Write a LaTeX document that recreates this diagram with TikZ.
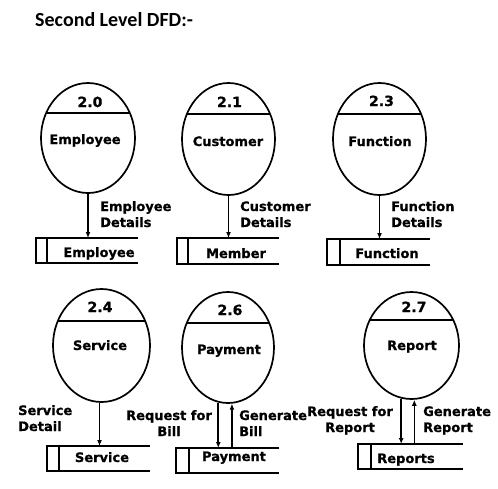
\documentclass[tikz,border=0pt]{standalone}
\usepackage{fontspec}
\setmainfont{DejaVu Sans}[BoldFeatures={FakeBold=0.8}]
\newfontfamily\titlefont{Carlito}
\usetikzlibrary{shapes.geometric,arrows.meta,calc}
\tikzset{
  proc/.style={draw, ellipse, line width=1.7pt, inner sep=0pt},
  storebox/.style={inner sep=0pt, outer sep=0pt, draw=none},
  storeline/.style={line width=1.7pt},
  flow/.style={line width=1.6pt, -{Latex[length=6pt,width=5pt]}},
  lbl/.style={font=\bfseries\fontsize{13}{16}\selectfont, inner sep=0pt},
  numtxt/.style={font=\bfseries\fontsize{14}{16}\selectfont, inner sep=0pt, anchor=base},
}
% name, rx, ry, dy
\newcommand\dfdchord[4]{%
  \draw[line width=1.7pt] ($(#1.center)+({-#2*sqrt(1-(#4/#3)^2)},-#4)$) -- ($(#1.center)+({#2*sqrt(1-(#4/#3)^2)},-#4)$);}
% name, cx, cy, w, h, inner offset
\newcommand\dfdstore[6]{%
  \node[storebox, minimum width=#4pt, minimum height=#5pt] (#1) at (#2,#3) {};
  \draw[storeline] (#1.north east) -- (#1.north west) -- (#1.south west) -- (#1.south east);
  \draw[storeline] ($(#1.north west)+(#6,0)$) -- ($(#1.south west)+(#6,0)$);}
\begin{document}
\begin{tikzpicture}[x=1pt,y=-1pt]
\useasboundingbox (0,0) rectangle (498,488);
\node[anchor=base west, inner sep=0pt, font=\titlefont\bfseries\fontsize{20}{24}\selectfont] (title) at (35,26) {Second Level DFD:-};

% processes
\node[proc, minimum width=94pt, minimum height=110pt] (p0) at (88,138) {};
\node[proc, minimum width=93pt, minimum height=112pt] (p1) at (228.5,139) {};
\node[proc, minimum width=93pt, minimum height=112pt] (p3) at (379.5,139) {};
\node[proc, minimum width=97pt, minimum height=113pt] (p4) at (101.5,345.5) {};
\node[proc, minimum width=92pt, minimum height=111pt] (p6) at (228,347.5) {};
\node[proc, minimum width=95pt, minimum height=107pt] (p7) at (411.5,345.5) {};
\dfdchord{p0}{47}{55}{25}
\dfdchord{p1}{46.5}{56}{25}
\dfdchord{p3}{46.5}{56}{25}
\dfdchord{p4}{48.5}{56.5}{24.5}
\dfdchord{p6}{46}{55.5}{24.5}
\dfdchord{p7}{47.5}{53.5}{25.5}

\node[numtxt] (p0n) at (90,107) {2.0};
\node[numtxt] (p1n) at (229.5,107) {2.1};
\node[numtxt] (p3n) at (381.5,106) {2.3};
\node[numtxt] (p4n) at (100,312) {2.4};
\node[numtxt] (p6n) at (230,315) {2.6};
\node[numtxt] (p7n) at (414,312) {2.7};

\node[lbl, anchor=base] (p0t) at (85,144) {Employee};
\node[lbl, anchor=base] (p1t) at (228,146) {Customer};
\node[lbl, anchor=base] (p3t) at (380,146) {Function};
\node[lbl, anchor=base] (p4t) at (100,350) {Service};
\node[lbl, anchor=base] (p6t) at (229,354) {Payment};
\node[lbl, anchor=base] (p7t) at (412,350) {Report};

% stores
\dfdstore{s0}{87}{250.5}{102}{25}{11}
\dfdstore{s1}{228}{251}{102}{26}{11}
\dfdstore{s3}{378.5}{252}{103}{26}{13}
\dfdstore{s4}{98.5}{458.5}{103}{25}{12}
\dfdstore{s6}{227.5}{460.5}{103}{25}{13}
\dfdstore{s7}{410.5}{456.5}{105}{25}{13}

\node[lbl, anchor=base] (s0t) at (99,257) {Employee};
\node[lbl, anchor=base] (s1t) at (236,258) {Member};
\node[lbl, anchor=base] (s3t) at (387,258) {Function};
\node[lbl, anchor=base] (s4t) at (102,462) {Service};
\node[lbl, anchor=base] (s6t) at (234,461) {Payment};
\node[lbl, anchor=base] (s7t) at (406,463) {Reports};

% flows
\draw[flow] (p0.south) -- (p0.south |- s0.north);
\draw[flow] (p1.south) -- (p1.south |- s1.north);
\draw[flow] (p3.south) -- (p3.south |- s3.north);
\draw[flow] (p4.268) -- (p4.268 |- s4.north);
\draw[flow] (p6.260.6) -- (p6.260.6 |- s6.north);
\draw[flow] (p6.274 |- s6.north) -- (p6.274);
\draw[flow] (p7.259.7) -- (p7.259.7 |- s7.north);
\draw[flow] (p7.273.8 |- s7.north) -- (p7.273.8);

% flow labels (anchor base = baseline of last line)
\node[lbl, anchor=base west, align=left] (f0) at (100,227) {Employee\\Details};
\node[lbl, anchor=base west, align=left] (f1) at (240,227) {Customer\\Details};
\node[lbl, anchor=base west, align=left] (f3) at (391,227) {Function\\Details};
\node[lbl, anchor=base west, align=left] (f4) at (18,431) {Service\\Detail};
\node[lbl, anchor=base, align=center] (f6a) at (169,436) {Request for\\Bill};
\node[lbl, anchor=base west, align=left] (f6b) at (239,436) {Generate\\Bill};
\node[lbl, anchor=base, align=center] (f7a) at (350,432) {Request for\\Report};
\node[lbl, anchor=base west, align=left] (f7b) at (423,432) {Generate\\Report};
\end{tikzpicture}
\end{document}
